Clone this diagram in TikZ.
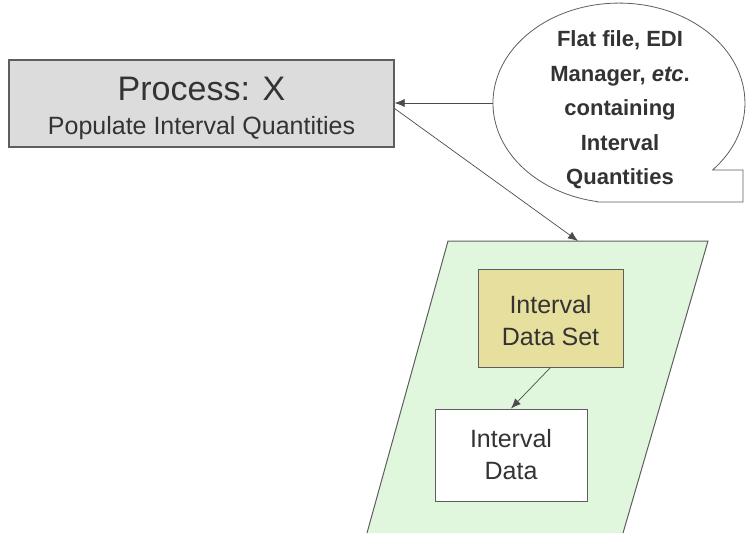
\documentclass[tikz,border=0pt]{standalone}
\usepackage{fontspec}
\setmainfont{Liberation Sans}
\usepackage{tikz}
\usetikzlibrary{arrows.meta,positioning,shapes.geometric}
\definecolor{ink}{HTML}{333333}
\definecolor{edge}{HTML}{5E5E5E}
\definecolor{procfill}{HTML}{DCDCDC}
\definecolor{setfill}{HTML}{E7DF9E}
\definecolor{zonefill}{HTML}{E0F7DD}
\tikzset{
  box/.style={draw=edge,fill=white,line width=1pt,align=center,text=ink,inner sep=0pt},
  procbox/.style={box,fill=procfill,line width=1.2pt,font=\fontsize{25pt}{34pt}\selectfont},
  setbox/.style={box,fill=setfill},
  boxtext/.style={font=\fontsize{25pt}{32pt}\selectfont},
  calltext/.style={align=center,text=ink,font=\bfseries\fontsize{22pt}{34.5pt}\selectfont},
  callout/.style={draw=edge,line width=0.8pt,fill=white},
  zone/.style={draw=edge,line width=1pt},
  flow/.style={-{Latex[length=10pt,width=8pt]},line width=0.7pt,color=edge!80!black}
}
\begin{document}
\begin{tikzpicture}[x=1pt,y=1pt]
  \useasboundingbox (0,0) rectangle (746,-533);
  % data area (green parallelogram, runs off the bottom)
  \coordinate (zbl) at (367,-533);
  \coordinate (ztl) at (448,-241);
  \coordinate (ztr) at (708,-241);
  \coordinate (zbr) at (623,-533);
  \fill[zonefill] (zbl) -- (ztl) -- (ztr) -- (zbr) -- cycle;
  \draw[zone] (zbl) -- (ztl) -- (ztr) -- (zbr);
  \coordinate (ztop) at (578,-241);
  % process
  \node[procbox,minimum width=385pt,minimum height=87pt] (proc) at (201.5,-103.5)
    {{\fontsize{34pt}{37pt}\selectfont\rule{0pt}{33pt}Process: X}\\
     Populate Interval Quantities};
  % source callout
  \node[ellipse,minimum width=252pt,minimum height=200pt,inner sep=0pt] (src) at (619,-103) {};
  \draw[callout] (597,-202) -- (743,-202) -- (743,-170) -- (712.6,-170)
    arc[start angle=-42,end angle=260,x radius=126,y radius=100] -- cycle;
  \node[calltext] (srct) at (620,-110)
    {Flat file, EDI\\Manager, \textit{etc}.\\containing\\Interval\\Quantities};
  % data set and data
  \node[setbox,boxtext,minimum width=145pt,minimum height=98pt] (ids) at (550.5,-318)
    {\rule{0pt}{23pt}Interval\\Data Set};
  \node[box,boxtext,minimum width=152pt,minimum height=92pt] (idata) at (511,-455)
    {Interval\\Data};
  % connectors
  \draw[flow] (src.west) -- (src.west -| proc.east);
  \draw[flow] ([yshift=-5pt]proc.east) -- (ztop);
  \draw[flow] (ids.south) -- (idata.north);
\end{tikzpicture}
\end{document}
